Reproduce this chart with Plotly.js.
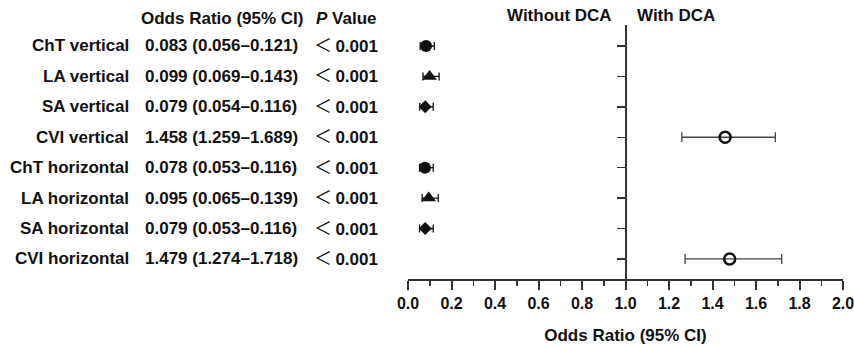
<!DOCTYPE html>
<html>
<head>
<meta charset="utf-8">
<script src="https://cdn.plot.ly/plotly-3.0.1.min.js"></script>
<style>html,body{margin:0;padding:0;background:#fff;} #chart{width:854px;height:346px;}</style>
</head>
<body>
<div id="chart"></div>
<script>
// ---- data ----
const labels = ['ChT vertical', 'LA vertical', 'SA vertical', 'CVI vertical',
                'ChT horizontal', 'LA horizontal', 'SA horizontal', 'CVI horizontal'];
const groups = ['ChT', 'LA', 'SA', 'CVI', 'ChT', 'LA', 'SA', 'CVI'];
const orValues = [0.083, 0.099, 0.079, 1.458, 0.078, 0.095, 0.079, 1.479];
const ciLower  = [0.056, 0.069, 0.054, 1.259, 0.053, 0.065, 0.053, 1.274];
const ciUpper  = [0.121, 0.143, 0.116, 1.689, 0.116, 0.139, 0.116, 1.718];
const pSign    = ['＜', '＜', '＜', '＜', '＜', '＜', '＜', '＜'];
const pValues  = ['0.001', '0.001', '0.001', '0.001', '0.001', '0.001', '0.001', '0.001'];
const xTickVals = [0, 0.2, 0.4, 0.6, 0.8, 1.0, 1.2, 1.4, 1.6, 1.8, 2.0];
const headers = {or: 'Odds Ratio (95% CI)', p: 'Value', left: 'Without DCA', right: 'With DCA'};
const axisTitle = 'Odds Ratio (95% CI)';

// ---- styles ----
const FONT = 'Liberation Sans, Arial, Helvetica, sans-serif';
const INK = '#111111';
const groupStyle = {
  ChT: {symbol: 'circle', size: 12, barColor: INK, cap: 4},
  LA:  {symbol: 'triangle-up', size: 13, barColor: INK, cap: 4},
  SA:  {symbol: 'diamond', size: 10, barColor: INK, cap: 4},
  CVI: {symbol: 'circle-open', size: 11, barColor: '#444444', cap: 5}
};

// layout geometry (pixels)
const W = 854, H = 346;
const M = {l: 408, r: 11, t: 25, b: 67};
const plotW = W - M.l - M.r;
const plotH = H - M.t - M.b;
const px2x = px => (px - M.l) / plotW;
const py2y = py => (H - M.b - py) / plotH;

const traces = [];
['ChT', 'LA', 'SA', 'CVI'].forEach(g => {
  const idx = groups.map((gg, i) => gg === g ? i : -1).filter(i => i >= 0);
  const s = groupStyle[g];
  traces.push({
    type: 'scatter', mode: 'markers',
    x: idx.map(i => orValues[i]),
    y: idx.map(i => i),
    marker: {symbol: s.symbol, size: s.size, color: INK,
             line: {color: INK, width: g === 'CVI' ? 2.5 : 0}},
    error_x: {type: 'data', symmetric: false,
              array: idx.map(i => ciUpper[i] - orValues[i]),
              arrayminus: idx.map(i => orValues[i] - ciLower[i]),
              color: s.barColor, thickness: 1.3, width: s.cap},
    showlegend: false, hoverinfo: 'skip', cliponaxis: false
  });
});

const annotations = [];
labels.forEach((lab, i) => {
  annotations.push({xref: 'paper', yref: 'y', x: px2x(131), y: i, xanchor: 'right', yanchor: 'middle',
    text: '<b>' + lab + '</b>', showarrow: false, font: {size: 17, color: INK}});
  const orTxt = orValues[i].toFixed(3) + ' (' + ciLower[i].toFixed(3) + '–' + ciUpper[i].toFixed(3) + ')';
  annotations.push({xref: 'paper', yref: 'y', x: px2x(143), y: i, xanchor: 'left', yanchor: 'middle',
    text: '<b>' + orTxt + '</b>', showarrow: false, font: {size: 17, color: INK}});
  annotations.push({xref: 'paper', yref: 'y', x: px2x(312), y: i, xanchor: 'left', yanchor: 'middle', yshift: 2,
    text: '<span style="font-family:\'Noto Sans CJK SC\';font-weight:normal;font-size:18px">' + pSign[i] +
          '</span><b>\u2009' + pValues[i] + '</b>', showarrow: false, font: {size: 17, color: INK}});
});
annotations.push({xref: 'paper', yref: 'paper', x: px2x(139), y: py2y(18), xanchor: 'left', yanchor: 'middle',
  text: '<b>' + headers.or + '</b>', showarrow: false, font: {size: 17, color: INK}});
annotations.push({xref: 'paper', yref: 'paper', x: px2x(314), y: py2y(18), xanchor: 'left', yanchor: 'middle',
  text: '<b><i>P</i> ' + headers.p + '</b>', showarrow: false, font: {size: 17, color: INK}});
annotations.push({xref: 'paper', yref: 'paper', x: px2x(614), y: py2y(15), xanchor: 'right', yanchor: 'middle',
  text: '<b>' + headers.left + '</b>', showarrow: false, font: {size: 17, color: INK}});
annotations.push({xref: 'paper', yref: 'paper', x: px2x(635), y: py2y(15), xanchor: 'left', yanchor: 'middle',
  text: '<b>' + headers.right + '</b>', showarrow: false, font: {size: 17, color: INK}});

const layout = {
  width: W, height: H,
  margin: M,
  paper_bgcolor: '#ffffff', plot_bgcolor: '#ffffff',
  font: {family: FONT, color: INK},
  xaxis: {
    range: [0, 2], tickvals: xTickVals, tickformat: '.1f',
    showgrid: false, zeroline: false,
    showline: true, linecolor: '#333333', linewidth: 2,
    ticks: 'outside', ticklen: 9, tickwidth: 2, tickcolor: '#333333',
    minor: {dtick: 0.1, tick0: 0, ticks: 'outside', ticklen: 5, tickwidth: 1.5, tickcolor: '#333333', showgrid: false},
    tickfont: {size: 16, color: INK, weight: 'bold', family: FONT},
    ticklabeloverflow: 'allow',
    title: {text: '<b>' + axisTitle + '</b>', font: {size: 17, color: INK}, standoff: 18},
    fixedrange: true
  },
  yaxis: {
    range: [7.66, -0.69], tickvals: [0, 1, 2, 3, 4, 5, 6, 7], showticklabels: false,
    showgrid: false, zeroline: false,
    anchor: 'free', position: 0.5,
    showline: true, linecolor: '#333333', linewidth: 2,
    ticks: 'outside', ticklen: 8, tickwidth: 1.5, tickcolor: '#333333',
    fixedrange: true
  },
  annotations: annotations
};

Plotly.newPlot('chart', traces, layout, {staticPlot: true, displayModeBar: false});
</script>
</body>
</html>
